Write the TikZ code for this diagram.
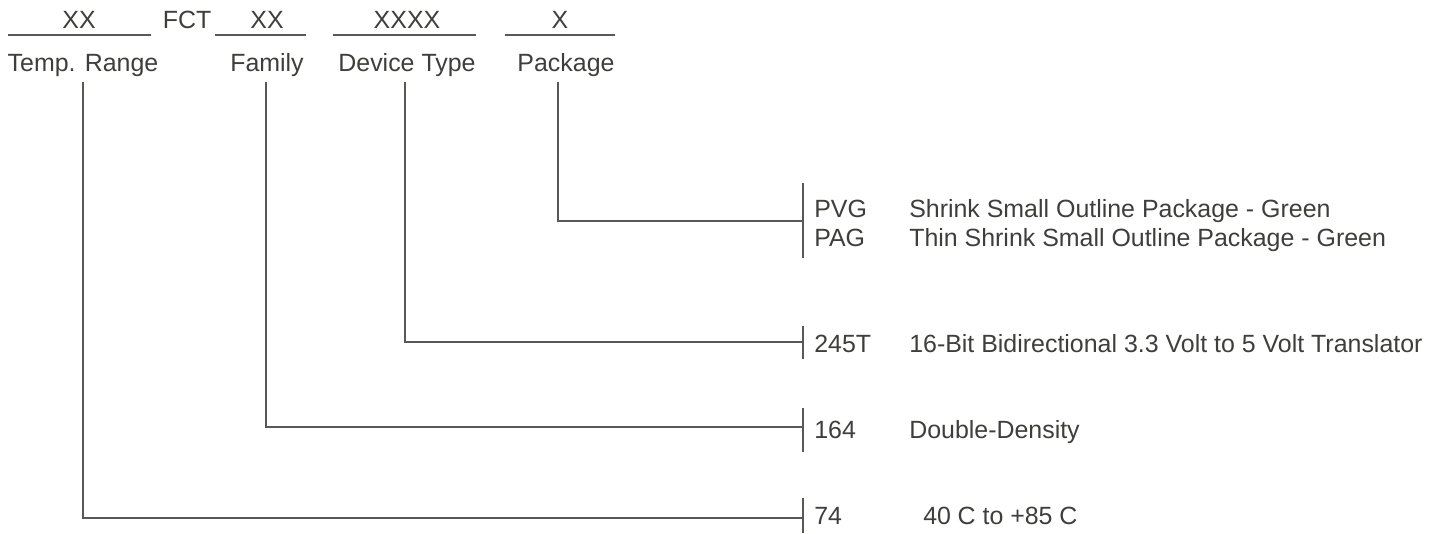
\documentclass[tikz,border=0pt]{standalone}
\usepackage{fontspec}
\setmainfont{Liberation Sans}
\definecolor{txtc}{RGB}{62,62,58}
\definecolor{linec}{RGB}{88,88,84}
\begin{document}
\begin{tikzpicture}[x=0.75pt,y=-0.75pt,
  txt/.style={inner sep=0pt, text=txtc, font=\fontsize{18.7pt}{22pt}\selectfont},
  ln/.style={draw=linec, line width=1pt}]
\useasboundingbox (0,0) rectangle (1445,533);
% top code row
\node[txt,anchor=base] (xx1) at (79,28) {XX};
\node[txt,anchor=base] (fct) at (187,28) {FCT};
\node[txt,anchor=base] (xx2) at (267,28) {XX};
\node[txt,anchor=base] (xxxx) at (407,28) {XXXX};
\node[txt,anchor=base] (x4) at (560,28) {X};
\draw[ln] (8,35) -- (151,35);
\draw[ln] (215,35) -- (306,35);
\draw[ln] (333,35) -- (476,35);
\draw[ln] (505,35) -- (615,35);
% field labels
\node[txt,anchor=base] (temp) at (83,71) {Temp. Range};
\node[txt,anchor=base] (fam) at (267,71) {Family};
\node[txt,anchor=base] (dev) at (407,71) {Device Type};
\node[txt,anchor=base] (pkg) at (566,71) {Package};
% leader start points
\coordinate (t0) at (83,82);
\coordinate (f0) at (266,82);
\coordinate (d0) at (405,82);
\coordinate (p0) at (558,82);
% bars
\coordinate (pb) at (803,221);
\coordinate (db) at (803,342);
\coordinate (fb) at (803,427);
\coordinate (tb) at (803,518);
\draw[ln] (803,183) -- (803,258);
\draw[ln] (803,326) -- (803,359);
\draw[ln] (803,408) -- (803,452);
\draw[ln] (803,498) -- (803,533);
% leaders
\draw[ln] (p0) |- (pb);
\draw[ln] (d0) |- (db);
\draw[ln] (f0) |- (fb);
\draw[ln] (t0) |- (tb);
% option texts
\node[txt,anchor=base west] (pvg) at (814,217) {PVG};
\node[txt,anchor=base west] (pvgd) at (909,217) {Shrink Small Outline Package - Green};
\node[txt,anchor=base west] (pag) at (814,246) {PAG};
\node[txt,anchor=base west] (pagd) at (909,246) {Thin Shrink Small Outline Package - Green};
\node[txt,anchor=base west] (dt) at (814,352) {245T};
\node[txt,anchor=base west] (dtd) at (909,352) {16-Bit Bidirectional 3.3 Volt to 5 Volt Translator};
\node[txt,anchor=base west] (fm) at (814,438) {164};
\node[txt,anchor=base west] (fmd) at (909,438) {Double-Density};
\node[txt,anchor=base west] (tr) at (814,524) {74};
\node[txt,anchor=base west] (trd) at (923,524) {40\hspace{5pt}C to +85\hspace{5pt}C};
\end{tikzpicture}
\end{document}
